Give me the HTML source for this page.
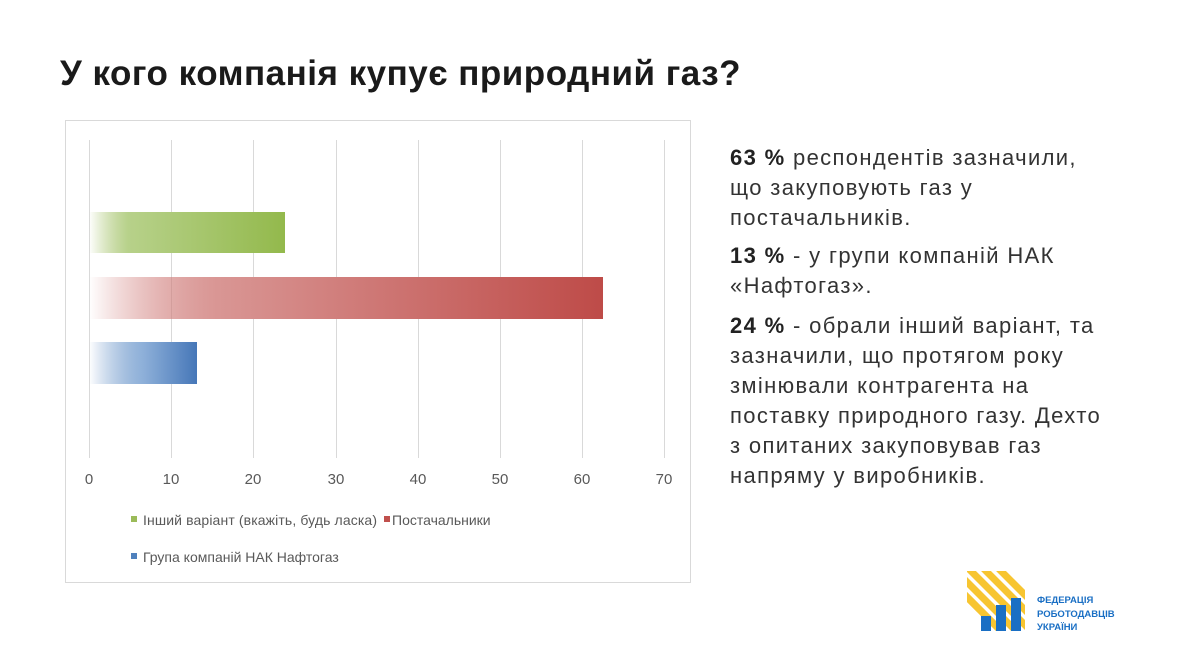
<!DOCTYPE html>
<html><head><meta charset="utf-8"><style>
body{margin:0;width:1183px;height:655px;background:#fff;position:relative;overflow:hidden;font-family:"Liberation Sans","DejaVu Sans",sans-serif}
.t{position:absolute;left:60px;top:54px;font-size:35px;font-weight:bold;color:#1a1a1a;letter-spacing:0.5px;white-space:nowrap}
.r{position:absolute;left:730px;width:460px;font-size:22px;color:#333;line-height:30px;letter-spacing:1.35px;white-space:nowrap}
.r b{color:#222}
</style></head><body>
<div class="t">У кого компанія купує природний газ?</div>
<svg style="position:absolute;left:0;top:0" width="1183" height="655">
<defs>
<linearGradient id="g" x1="0" x2="1"><stop offset="0" stop-color="#9bbb59" stop-opacity="0"/><stop offset="0.2" stop-color="#b7d18a"/><stop offset="1" stop-color="#93b94c"/></linearGradient>
<linearGradient id="rd" x1="0" x2="1"><stop offset="0" stop-color="#c0504d" stop-opacity="0"/><stop offset="0.25" stop-color="#d99694"/><stop offset="1" stop-color="#be4b48"/></linearGradient>
<linearGradient id="b" x1="0" x2="1"><stop offset="0" stop-color="#4f81bd" stop-opacity="0"/><stop offset="0.5" stop-color="#8eb0d9"/><stop offset="1" stop-color="#4677b8"/></linearGradient>
</defs>
<rect x="65.5" y="120.5" width="625" height="462" fill="#fff" stroke="#d9d9d9"/>
<g stroke="#d9d9d9">
<line x1="89.5" y1="140" x2="89.5" y2="458"/><line x1="171.5" y1="140" x2="171.5" y2="458"/><line x1="253.5" y1="140" x2="253.5" y2="458"/><line x1="336.5" y1="140" x2="336.5" y2="458"/><line x1="418.5" y1="140" x2="418.5" y2="458"/><line x1="500.5" y1="140" x2="500.5" y2="458"/><line x1="582.5" y1="140" x2="582.5" y2="458"/><line x1="664.5" y1="140" x2="664.5" y2="458"/>
</g>
<rect x="89" y="212" width="196" height="41" fill="url(#g)"/>
<rect x="89" y="277" width="514" height="42" fill="url(#rd)"/>
<rect x="89" y="342" width="108" height="42" fill="url(#b)"/>
<g font-size="15" fill="#595959" text-anchor="middle" font-family="Liberation Sans Narrow,Liberation Sans,sans-serif">
<text x="89" y="484">0</text><text x="171" y="484">10</text><text x="253" y="484">20</text><text x="336" y="484">30</text><text x="418" y="484">40</text><text x="500" y="484">50</text><text x="582" y="484">60</text><text x="664" y="484">70</text>
</g>
<g font-size="14" fill="#595959" font-family="Liberation Sans Narrow,Liberation Sans,sans-serif">
<rect x="131" y="516" width="6" height="6" fill="#9bbb59"/><text x="143" y="525" textLength="234">Інший варіант (вкажіть, будь ласка)</text>
<rect x="384" y="516" width="6" height="6" fill="#c0504d"/><text x="392" y="525">Постачальники</text>
<rect x="131" y="553" width="6" height="6" fill="#4f81bd"/><text x="143" y="562">Група компаній НАК Нафтогаз</text>
</g>
<clipPath id="c"><rect x="967" y="571" width="58" height="60"/></clipPath>
<g clip-path="url(#c)">
<g stroke="#f7c531" stroke-width="7">
<line x1="960" y1="560" x2="1040" y2="640"/><line x1="975" y1="560" x2="1055" y2="640"/><line x1="945" y1="560" x2="1025" y2="640"/><line x1="990" y1="560" x2="1070" y2="640"/><line x1="930" y1="560" x2="1010" y2="640"/><line x1="960" y1="590" x2="1010" y2="640"/>
</g>
<rect x="981" y="616" width="10" height="15" fill="#1a6fc4"/><rect x="996" y="605" width="10" height="26" fill="#1a6fc4"/><rect x="1011" y="598" width="10" height="33" fill="#1a6fc4"/>
</g>
<g font-size="9.5" font-weight="bold" fill="#1a6fc4">
<text x="1037" y="603">ФЕДЕРАЦІЯ</text><text x="1037" y="617">РОБОТОДАВЦІВ</text><text x="1037" y="630">УКРАЇНИ</text>
</g>
</svg>
<div class="r" style="top:143px"><b>63 %</b> респондентів зазначили,<br>що закуповують газ у<br>постачальників.</div>
<div class="r" style="top:241px"><b>13 %</b> - у групи компаній НАК<br>«Нафтогаз».</div>
<div class="r" style="top:311px"><b>24 %</b> - обрали інший варіант, та<br>зазначили, що протягом року<br>змінювали контрагента на<br>поставку природного газу. Дехто<br>з опитаних закуповував газ<br>напряму у виробників.</div>
</body></html>
